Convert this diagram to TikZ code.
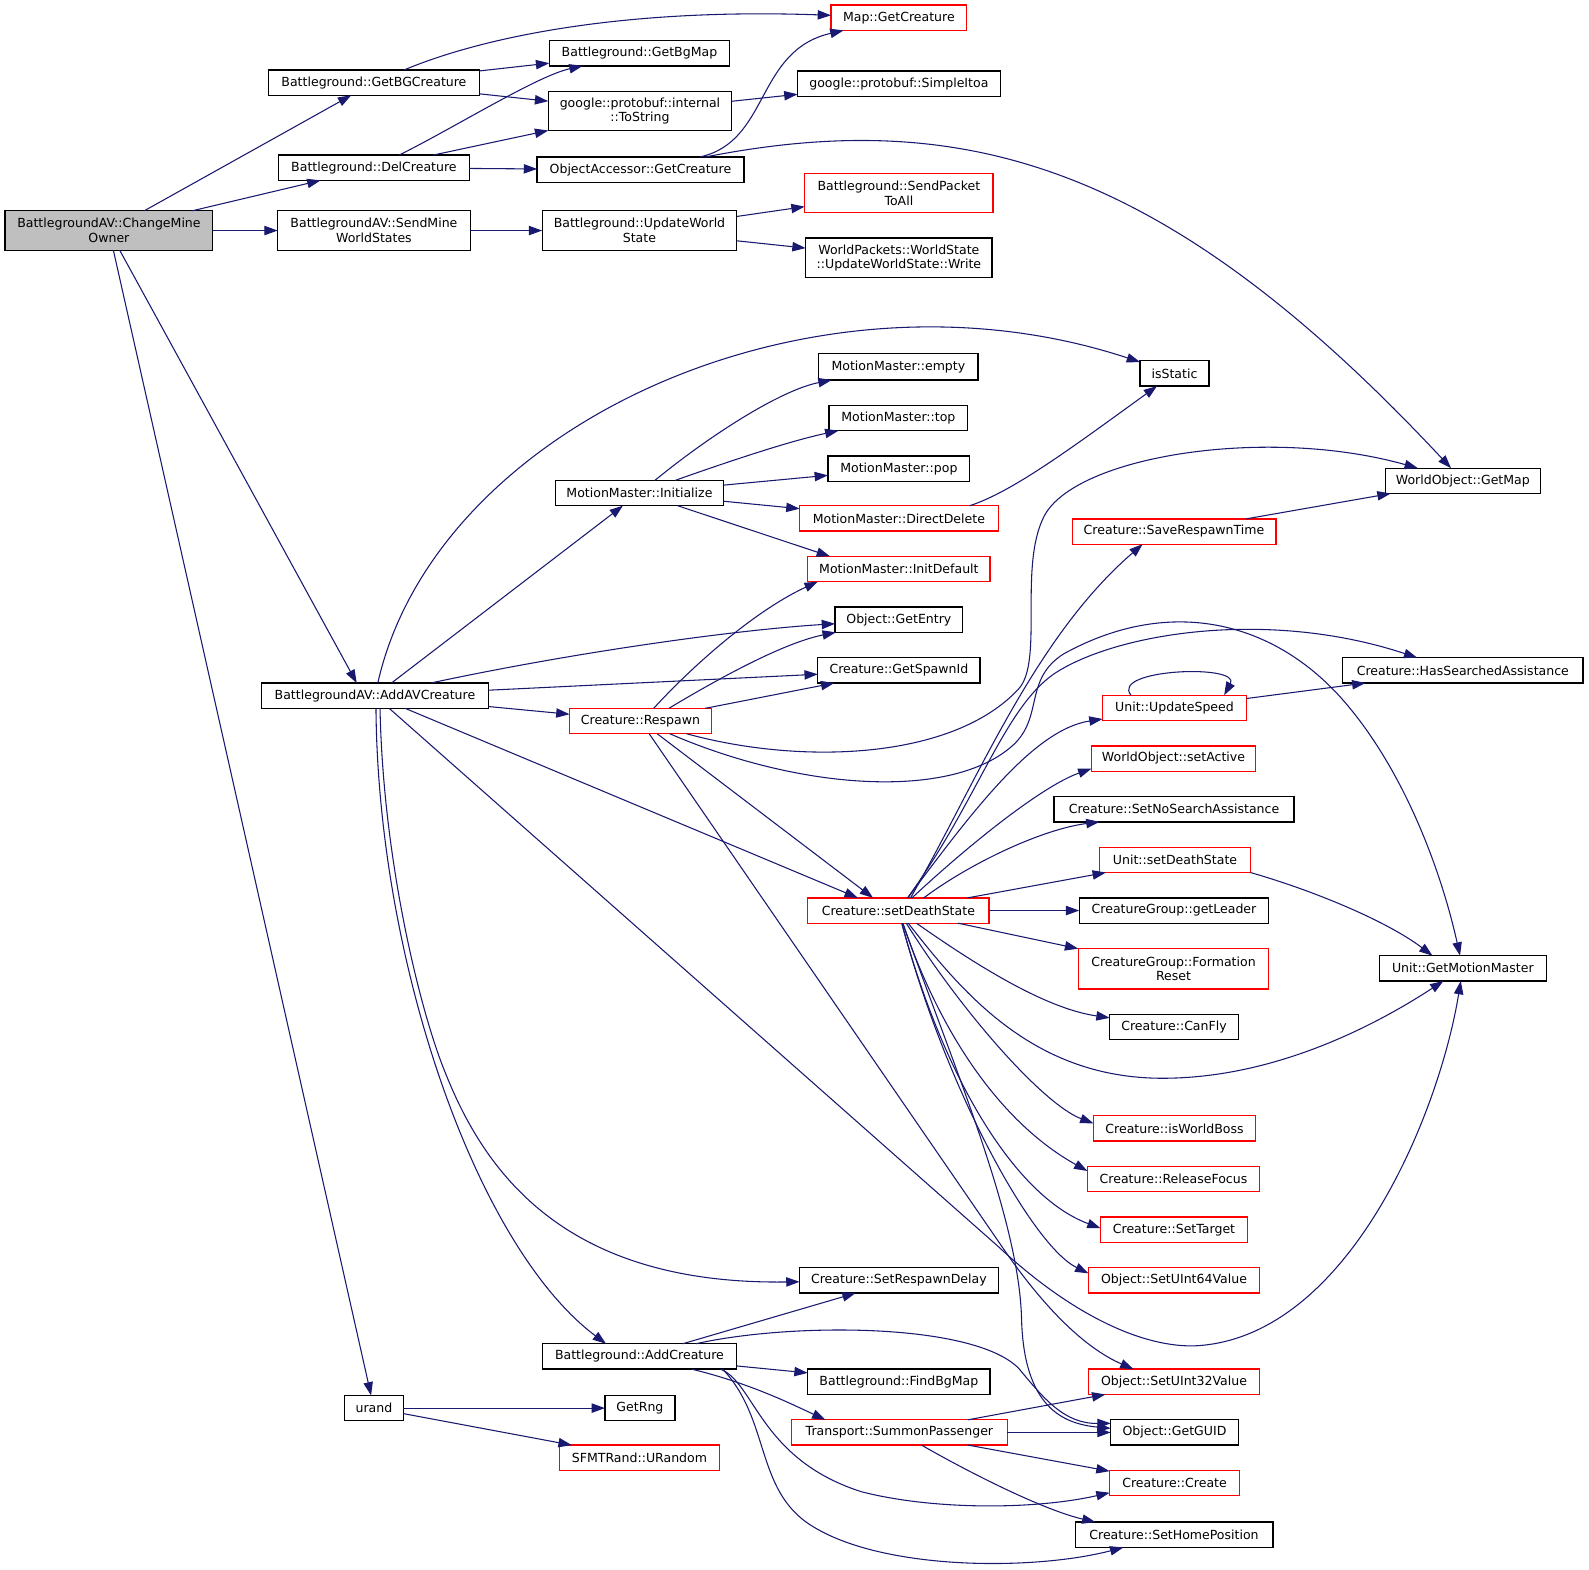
\documentclass[tikz,border=0pt]{standalone}
\usepackage{fontspec}
\usetikzlibrary{arrows.meta,calc}
\newfontfamily\dvsans{DejaVu Sans}
\newcommand\nodefont{\dvsans\fontsize{9.4}{11}\selectfont}
\definecolor{edgeblue}{HTML}{191970}
\definecolor{graynode}{HTML}{BFBFBF}
\newcommand\bx[7]{\node[#2,minimum width={(#5-#3)*0.76pt},minimum height={(#6-#4)*0.76pt}] (#1) at ({(#3+#5)/2},{(#4+#6)/2}) {#7};}
\tikzset{
  nb/.style={draw=black, fill=white, line width=1pt, inner sep=0pt, outer sep=0pt, align=center, font=\nodefont},
  nr/.style={nb, draw=red},
  ng/.style={nb, fill=graynode},
  e/.style={draw=edgeblue, line width=0.8pt, -{Triangle[length=10pt,width=7pt]}}
}
\begin{document}
\begin{tikzpicture}[x=0.76pt,y=-0.76pt]
\useasboundingbox[fill=white] (0,0) rectangle (1568,1548.3);
% nodes
\bx{cmo}{ng}{5}{208}{210}{247}{BattlegroundAV::ChangeMine\\Owner}
\bx{gbc}{nb}{265}{69}{473}{94}{Battleground::GetBGCreature}
\bx{delc}{nb}{275}{153}{463}{178}{Battleground::DelCreature}
\bx{smws}{nb}{274}{208}{464}{247}{BattlegroundAV::SendMine\\WorldStates}
\bx{mapgc}{nr}{820}{5}{954}{30}{Map::GetCreature}
\bx{gbm}{nb}{542}{40}{720}{65}{Battleground::GetBgMap}
\bx{tostr}{nb}{541}{90}{722}{129}{google::protobuf::internal\\::ToString}
\bx{sitoa}{nb}{787}{70}{987}{95}{google::protobuf::SimpleItoa}
\bx{oagc}{nb}{530}{155}{734}{180}{ObjectAccessor::GetCreature}
\bx{spta}{nr}{794}{171}{980}{210}{Battleground::SendPacket\\ToAll}
\bx{uws}{nb}{535}{208}{727}{247}{Battleground::UpdateWorld\\State}
\bx{wpw}{nb}{795}{235}{979}{274}{WorldPackets::WorldState\\::UpdateWorldState::Write}
\bx{isst}{nb}{1125}{356}{1193}{381}{isStatic}
\bx{mme}{nb}{808}{349}{965}{375}{MotionMaster::empty}
\bx{mmt}{nb}{818}{400}{955}{425}{MotionMaster::top}
\bx{mmp}{nb}{817}{450}{957}{475}{MotionMaster::pop}
\bx{mmi}{nb}{548}{474}{714}{499}{MotionMaster::Initialize}
\bx{mmdd}{nr}{789}{499}{985}{524}{MotionMaster::DirectDelete}
\bx{wogm}{nb}{1367}{462}{1520}{487}{WorldObject::GetMap}
\bx{csrt}{nr}{1058}{512}{1259}{537}{Creature::SaveRespawnTime}
\bx{mmid}{nr}{797}{549}{977}{574}{MotionMaster::InitDefault}
\bx{oge}{nb}{824}{599}{950}{624}{Object::GetEntry}
\bx{cgsi}{nb}{807}{649}{967}{674}{Creature::GetSpawnId}
\bx{chsa}{nb}{1325}{649}{1562}{674}{Creature::HasSearchedAssistance}
\bx{aac}{nb}{258}{674}{482}{699}{BattlegroundAV::AddAVCreature}
\bx{cresp}{nr}{562}{699}{702}{724}{Creature::Respawn}
\bx{uus}{nr}{1088}{686}{1230}{711}{Unit::UpdateSpeed}
\bx{wosa}{nr}{1077}{736}{1239}{761}{WorldObject::setActive}
\bx{cnsa}{nb}{1040}{786}{1277}{811}{Creature::SetNoSearchAssistance}
\bx{usds}{nr}{1085}{836}{1234}{861}{Unit::setDeathState}
\bx{csds}{nr}{797}{886}{976}{911}{Creature::setDeathState}
\bx{cggl}{nb}{1065}{886}{1252}{911}{CreatureGroup::getLeader}
\bx{cgfr}{nr}{1064}{936}{1252}{976}{CreatureGroup::Formation\\Reset}
\bx{ugmm}{nb}{1361}{943}{1526}{968}{Unit::GetMotionMaster}
\bx{ccf}{nb}{1095}{1001}{1222}{1026}{Creature::CanFly}
\bx{ciwb}{nr}{1079}{1101}{1239}{1126}{Creature::isWorldBoss}
\bx{crf}{nr}{1073}{1151}{1243}{1176}{Creature::ReleaseFocus}
\bx{cst}{nr}{1086}{1201}{1231}{1226}{Creature::SetTarget}
\bx{osu64}{nr}{1074}{1251}{1243}{1276}{Object::SetUInt64Value}
\bx{csrd}{nb}{789}{1251}{985}{1276}{Creature::SetRespawnDelay}
\bx{bgac}{nb}{535}{1326}{727}{1351}{Battleground::AddCreature}
\bx{fbgm}{nb}{797}{1351}{977}{1376}{Battleground::FindBgMap}
\bx{osu32}{nr}{1074}{1351}{1243}{1376}{Object::SetUInt32Value}
\bx{urand}{nb}{340}{1377}{398}{1402}{urand}
\bx{grng}{nb}{597}{1377}{666}{1402}{GetRng}
\bx{tsp}{nr}{781}{1401}{994}{1426}{Transport::SummonPassenger}
\bx{oguid}{nb}{1096}{1401}{1222}{1426}{Object::GetGUID}
\bx{sfmt}{nr}{552}{1426}{710}{1451}{SFMTRand::URandom}
\bx{ccr}{nr}{1095}{1451}{1223}{1476}{Creature::Create}
\bx{cshp}{nb}{1061}{1502}{1256}{1527}{Creature::SetHomePosition}
% edges
\draw[e] (cmo) -- (gbc);
\draw[e] (cmo) -- (delc);
\draw[e] (cmo) -- (smws);
\draw[e] (cmo) -- ($(aac.north)+(-18,0)$);
\draw[e] (cmo) -- (urand);
\draw[e] (gbc) .. controls (480,35) and (620,8) .. (mapgc);
\draw[e] (gbc) -- (gbm);
\draw[e] (gbc) -- (tostr);
\draw[e] (delc) .. controls (450,125) and (530,75) .. (gbm);
\draw[e] (delc) -- (tostr);
\draw[e] (delc) -- (oagc);
\draw[e] (oagc) .. controls (760,140) and (745,50) .. (mapgc);
\draw[e] (oagc) .. controls (950,105) and (1150,160) .. (wogm);
\draw[e] (tostr) -- (sitoa);
\draw[e] (smws) -- (uws);
\draw[e] (uws) -- (spta);
\draw[e] (uws) -- (wpw);
\draw[e] (aac) .. controls (430,420) and (800,250) .. (isst);
\draw[e] (aac) -- (mmi);
\draw[e] ($(aac.north)+(55,0)$) .. controls (560,645) and (720,622) .. (oge);
\draw[e] (aac) -- (cgsi);
\draw[e] (aac) -- (cresp);
\draw[e] (aac) -- ($(csds.north)+(-40,0)$);
\draw[e] (aac) -- (985,1230) .. controls (1060,1300) and (1130,1330) .. (1180,1328) .. controls (1330,1320) and (1420,1100) .. (ugmm);
\draw[e] ($(aac.south)+(5,0)$) .. controls (378,850) and (415,1000) .. (440,1060) .. controls (480,1160) and (560,1268) .. (csrd);
\draw[e] ($(aac.south)+(1,0)$) .. controls (373,950) and (470,1230) .. ($(bgac.north)+(-33,0)$);
\draw[e] (mmi) .. controls (700,430) and (770,385) .. (mme);
\draw[e] (mmi) .. controls (720,455) and (780,435) .. (mmt);
\draw[e] (mmi) -- (mmp);
\draw[e] (mmi) -- (mmdd);
\draw[e] (mmi) -- ($(mmid.north)+(-68,0)$);
\draw[e] ($(mmdd.north)+(70,0)$) .. controls (1000,485) and (1060,440) .. (isst);
\draw[e] ($(cresp.north)+(13,0)$) .. controls (690,650) and (750,600) .. ($(mmid.south)+(-80,0)$);
\draw[e] ($(cresp.north)+(28,0)$) .. controls (700,675) and (770,635) .. (oge);
\draw[e] (cresp) -- (cgsi);
\draw[e] (cresp) .. controls (790,755) and (940,750) .. (1005,680) .. controls (1030,653) and (1005,560) .. (1030,510) .. controls (1060,450) and (1250,420) .. (wogm);
\draw[e] (cresp) .. controls (790,780) and (940,790) .. (1000,735) .. controls (1030,707) and (1010,670) .. (1050,645) .. controls (1150,590) and (1250,610) .. (1320,685) .. controls (1380,750) and (1420,850) .. (ugmm);
\draw[e] (cresp) -- ($(csds.north)+(-25,0)$);
\draw[e] (cresp) -- (990,1232) .. controls (1030,1290) and (1070,1330) .. ($(osu32.north)+(-40,0)$);
\draw[e] ($(csds.north)+(12,0)$) .. controls (965,770) and (1020,630) .. ($(csrt.south)+(-31,0)$);
\draw[e] (csds) .. controls (965,790) and (990,700) .. (1040,665) .. controls (1100,625) and (1250,600) .. ($(chsa.north)+(-45,0)$);
\draw[e] (csds) .. controls (960,800) and (1020,720) .. (uus);
\draw[e] (csds) .. controls (960,830) and (1030,775) .. ($(wosa.west)+(0,10)$);
\draw[e] ($(csds.north)+(25,0)$) .. controls (960,850) and (1030,818) .. ($(cnsa.south west)+(45,0)$);
\draw[e] (csds) -- (usds);
\draw[e] (csds) -- (cggl);
\draw[e] (csds) -- (cgfr);
\draw[e] (csds) .. controls (960,950) and (1030,995) .. (ccf);
\draw[e] (csds) .. controls (950,980) and (1020,1064) .. (1147,1064) .. controls (1260,1064) and (1360,1010) .. (ugmm);
\draw[e] (csds) .. controls (950,1000) and (1030,1090) .. ($(ciwb.west)+(0,-5)$);
\draw[e] (csds) .. controls (935,1040) and (1000,1115) .. ($(crf.west)+(0,-8)$);
\draw[e] (csds) .. controls (930,1060) and (1000,1180) .. ($(cst.west)+(0,-1.5)$);
\draw[e] (csds) .. controls (935,1080) and (1020,1230) .. ($(osu64.west)+(0,-7)$);
\draw[e] (csds) .. controls (940,1050) and (1005,1200) .. (1008,1300) .. controls (1010,1390) and (1050,1405) .. ($(oguid.west)+(0,-4)$);
\draw[e] (usds.south east) .. controls (1300,880) and (1370,910) .. ($(ugmm.north)+(-30,0)$);
\draw[e] ($(uus.north)+(-43,0)$) .. controls (1095,660) and (1225,655) .. ($(uus.north)+(49,0)$);
\draw[e] (uus) -- (chsa);
\draw[e] (csrt) -- (wogm);
\draw[e] (bgac) -- (csrd);
\draw[e] (bgac) .. controls (780,1305) and (960,1305) .. (1005,1350) .. controls (1030,1380) and (1050,1405) .. ($(oguid.west)+(0,-9)$);
\draw[e] (bgac) -- (fbgm);
\draw[e] (bgac) .. controls (740,1365) and (780,1385) .. ($(tsp.north)+(-73,0)$);
\draw[e] ($(bgac.south)+(80,0)$) .. controls (745,1365) and (750,1440) .. (850,1472) .. controls (920,1490) and (1020,1490) .. ($(ccr.south west)+(0,-3)$);
\draw[e] ($(bgac.south)+(82,0)$) .. controls (760,1400) and (745,1470) .. (800,1505) .. controls (870,1550) and (1020,1550) .. ($(cshp.south)+(-50,0)$);
\draw[e] (tsp) -- (osu32);
\draw[e] (tsp) -- (oguid);
\draw[e] (tsp) -- (ccr);
\draw[e] (tsp) .. controls (960,1455) and (1030,1490) .. ($(cshp.north west)+(20,0)$);
\draw[e] (urand) -- (grng);
\draw[e] (urand) -- (sfmt);
\end{tikzpicture}
\end{document}
